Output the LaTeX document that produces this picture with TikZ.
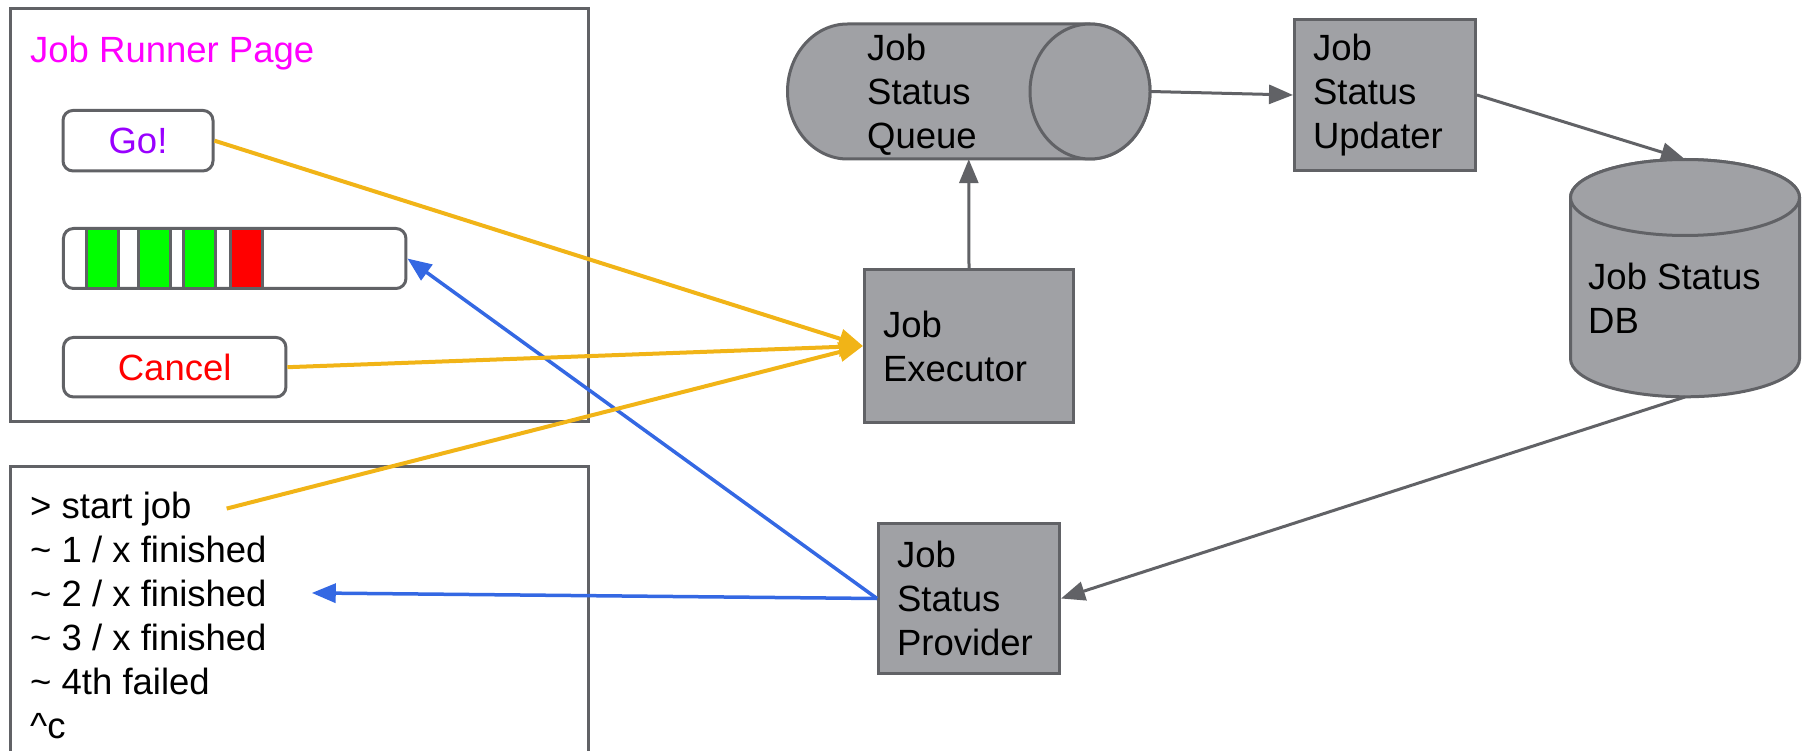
\documentclass[tikz,border=0pt]{standalone}
\usepackage{fontspec}
\setmainfont{Liberation Sans}
\usepackage{tikz}
\usetikzlibrary{arrows.meta}
\usepackage{xcolor}
\definecolor{boxfill}{HTML}{A0A1A5}
\definecolor{boxline}{HTML}{616266}
\definecolor{linkyellow}{HTML}{F1B417}
\definecolor{linkblue}{HTML}{3468E3}
\definecolor{titlepink}{HTML}{FF00FF}
\definecolor{gopurple}{HTML}{9900FF}
\definecolor{cancelred}{HTML}{FF0000}
\definecolor{barok}{HTML}{00FF00}
\definecolor{barfail}{HTML}{FF0000}

\begin{document}
\begin{tikzpicture}[x=1pt, y=-1pt, font={\fontsize{36.5}{44}\selectfont},
    >={Triangle[length=24pt,width=19pt]},
    outline/.style={draw=boxline, line width=3pt},
    button/.style={outline, rounded corners=10pt, fill=white, inner sep=0pt},
    procbox/.style={outline, fill=boxfill, align=left, inner xsep=18.5pt, inner ysep=0pt},
    span/.style={inner sep=0pt},
    plain/.style={inner sep=0pt},
    flow/.style={->, draw=boxline, line width=3pt},
    click/.style={->, draw=linkyellow, line width=4pt},
    report/.style={->, draw=linkblue, line width=3.5pt}]
    \useasboundingbox (0,0) rectangle (1802,751);

    % page with buttons
    \node[outline, minimum width=577.5pt, minimum height=412.7pt, inner sep=0pt] (page) at (299.25,215.35) {};
    \node[plain, anchor=base west, text=titlepink] (title) at (30,63) {Job Runner Page};
    \node[button, minimum width=150pt, minimum height=60.5pt, text=gopurple] (go) at (138,140.7) {Go!};
    \node[button, minimum width=342.5pt, minimum height=60pt] (bar) at (234.7,258.5) {};
    \foreach \sx/\col in {86.5/barok, 138.5/barok, 183.5/barok, 230.5/barfail}
        \draw[outline, fill=\col] (\sx,228.5) rectangle ++(32,60);
    \node[button, minimum width=222.5pt, minimum height=59.5pt, text=cancelred] (cancel) at (174.7,367.2) {Cancel};

    % terminal
    \draw[outline] (10.5,751) -- (10.5,466.7) -- (588,466.7) -- (588,751);
    \foreach \name/\txt [count=\i from 0] in {cmdstart/{> start job}, fin1/{\textasciitilde{} 1 / x finished},
        fin2/{\textasciitilde{} 2 / x finished}, fin3/{\textasciitilde{} 3 / x finished},
        fail4/{\textasciitilde{} 4th failed}, ctrlc/{\textasciicircum{}c}}
        \node[plain, anchor=base west] (\name) at (30,{518+44*\i}) {\txt};

    % queue and db
    \draw[outline, fill=boxfill] (1090,24) -- (847.5,24) arc[start angle=90, end angle=270, x radius=60pt, y radius=67.5pt]
        -- (1090,159) arc[start angle=-90, end angle=90, x radius=60pt, y radius=67.5pt] -- cycle;
    \draw[outline, fill=boxfill] (1090,91.5) ellipse[x radius=60pt, y radius=67.5pt];
    \node[span, minimum width=362.5pt, minimum height=135pt] (queue) at (968.75,91.5) {};
    \node[plain, anchor=west, align=left] (queuelabel) at (867,95) {Job\\Status\\Queue};

    \draw[outline, fill=boxfill] (1570.5,197.5) -- (1570.5,358.8) arc[start angle=180, end angle=360, x radius=114.5pt, y radius=38pt]
        -- (1799.5,197.5) arc[start angle=0, end angle=180, x radius=114.5pt, y radius=38pt] -- cycle;
    \draw[outline, fill=boxfill] (1685,197.5) ellipse[x radius=114.5pt, y radius=38pt];
    \node[span, minimum width=229pt, minimum height=237.3pt] (db) at (1685,278.15) {};
    \node[plain, anchor=west, align=left] (dblabel) at (1588,298) {Job Status\\DB};

    \node[procbox, text width=172pt, minimum height=152pt] (executor) at (969,346) {Job\\Executor};
    \node[procbox, text width=144pt, minimum height=151pt] (updater) at (1385,95) {Job\\Status\\Updater};
    \node[procbox, text width=144pt, minimum height=150pt] (provider) at (969,598.5) {Job\\Status\\Provider};

    \draw[flow] (executor.north) -- (queue.south);
    \draw[flow] (queue.east) -- (updater.west);
    \draw[flow] (updater.east) -- (db.north);
    \draw[flow] (db.south) -- (provider.east);
    \draw[report] (provider.west) -- (bar.east);
    \draw[report] (provider.west) -- ([xshift=45pt]fin2.east);
    \draw[click] (go.east) -- (executor.west);
    \draw[click] (cancel.east) -- (executor.west);
    \draw[click] ([xshift=35pt]cmdstart.east) -- (executor.west);
\end{tikzpicture}
\end{document}
